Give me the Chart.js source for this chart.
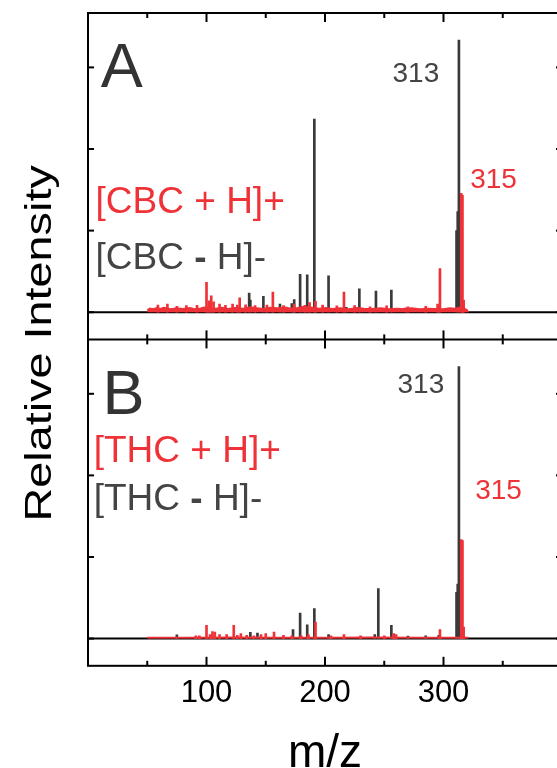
<!DOCTYPE html>
<html>
<head>
<meta charset="utf-8">
<script src="https://cdn.jsdelivr.net/npm/chart.js@4.4.1/dist/chart.umd.min.js"></script>
<style>
  html, body { margin: 0; padding: 0; background: #fff; overflow: hidden; }
  #wrap { width: 557px; height: 768px; overflow: hidden; }
</style>
</head>
<body>
<div id="wrap"><canvas id="ms" width="563" height="768"></canvas></div>
<script>
// m/z axis ticks and intensity ticks (313 peak = 100)
const xTicks = [50, 100, 150, 200, 250, 300, 350];
const yTicks = [0, 30, 60, 90];

// Panel A - CBC
const cbcNegMz  = [136, 137, 148, 162, 172, 174, 179, 185, 191, 203, 218, 229, 243, 256, 268, 296, 311, 312, 313];
const cbcNegInt = [7.0, 4.5, 5.8, 3.0, 3.2, 4.6, 13.9, 13.7, 71, 13.4, 1.8, 8.6, 7.8, 8.1, 1.5, 2.0, 30, 37, 100];
const cbcPosMz  = [59, 67, 75, 83, 92, 100, 102, 104, 106, 111, 116, 122, 126, 128, 133, 141, 151, 156, 165, 174, 183, 187, 192, 198, 210, 216, 225, 238, 252, 270, 285, 295, 297, 315, 316, 317];
const cbcPosInt = [2.6, 3.0, 2.2, 2.4, 2.5, 11, 4.2, 6.0, 3.8, 3.0, 2.5, 3.0, 2.6, 5.3, 2.7, 2.4, 2.6, 7.4, 2.4, 3.0, 2.5, 3.5, 4.0, 2.6, 2.3, 7.4, 2.4, 2.0, 2.3, 2.0, 2.2, 3.0, 16, 43.7, 43, 4.5];
const cbcFloorMz = [50, 52, 55, 58, 61, 64, 70, 75, 80, 86, 90, 95, 98, 108, 113, 118, 124, 131, 137, 143, 148, 153, 160, 167, 171, 177, 181, 190, 195, 201, 206, 213, 220, 227, 233, 240, 247, 254, 260, 266, 273, 280, 287, 293, 300, 305, 310, 314, 318, 320, 321];
const cbcFloor   = [0.8, 1.4, 1.2, 1.6, 1.3, 1.7, 1.2, 1.5, 1.3, 1.6, 1.2, 1.5, 1.8, 1.4, 1.7, 1.3, 1.6, 1.4, 1.9, 1.5, 1.3, 1.7, 1.5, 1.8, 1.4, 1.6, 2.0, 1.7, 1.4, 1.6, 1.3, 1.5, 1.2, 1.6, 1.4, 1.3, 1.5, 1.2, 1.4, 1.3, 1.5, 1.2, 1.4, 1.3, 1.2, 1.5, 1.4, 1.8, 1.3, 0.8, 0];

// Panel B - THC
const thcNegMz  = [75, 137, 143, 173, 179, 185, 191, 203, 242, 245, 256, 270, 285, 296, 311, 312, 313];
const thcNegInt = [1.4, 2.3, 2.0, 3.3, 9.4, 5.1, 11, 1.5, 1.5, 18.4, 4.9, 0.9, 1.0, 1.2, 17, 20, 100];
const thcPosMz  = [91, 94, 100, 103, 105, 107, 111, 117, 123, 126, 129, 134, 140, 146, 150, 157, 165, 172, 180, 186, 192, 205, 216, 230, 250, 258, 260, 297, 315, 316, 317];
const thcPosInt = [1.0, 1.0, 4.9, 1.5, 2.6, 2.4, 1.5, 1.5, 4.9, 1.2, 1.8, 1.2, 1.0, 1.5, 1.8, 2.4, 1.2, 1.0, 1.0, 1.5, 6.1, 1.0, 1.5, 1.0, 1.0, 1.8, 1.5, 3.3, 36.4, 36, 4.2];
const thcFloorMz = [50, 80, 120, 160, 200, 240, 280, 321];
const thcFloor   = [0.4, 0.4, 0.5, 0.4, 0.4, 0.5, 0.4, 0.4];

const RED = '#ee3238';
const DARK = '#3a3a3a';
const FONT = "'Liberation Sans', Arial, sans-serif";

const pts = (xs, ys) => xs.map((m, i) => ({ x: m, y: ys[i] }));

function sticks(xs, ys, axis, color, order) {
  return { type: 'bar', data: pts(xs, ys), yAxisID: axis, backgroundColor: color,
           borderWidth: 0, barThickness: 2, grouped: false, order: order };
}
function floor(xs, ys, axis) {
  return { type: 'line', data: pts(xs, ys), yAxisID: axis, borderColor: RED, backgroundColor: RED,
           borderWidth: 1.5, pointRadius: 0, fill: 'origin', tension: 0, order: 1 };
}

// text placed in data units of each panel
const notes = [
  { axis: 'yA', x: 10.7, y: 82.9, size: 63, color: '#333', align: 'left', parts: ['A'] },
  { axis: 'yA', x: 296.4, y: 84.8, size: 28, color: '#444', align: 'right', parts: ['313'] },
  { axis: 'yA', x: 322.5, y: 45.6, size: 28, color: RED, align: 'left', parts: ['315'] },
  { axis: 'yA', x: 6.4, y: 36.3, size: 37, color: RED, align: 'left', parts: ['[CBC + H]+'] },
  { axis: 'yA', x: 6.4, y: 16, size: 37, color: '#444', align: 'left', parts: ['[CBC ', '-', ' H]-'] },
  { axis: 'yB', x: 12.3, y: 82.6, size: 63, color: '#333', align: 'left', parts: ['B'] },
  { axis: 'yB', x: 300.6, y: 90.3, size: 28, color: '#444', align: 'right', parts: ['313'] },
  { axis: 'yB', x: 326.7, y: 51.3, size: 28, color: RED, align: 'left', parts: ['315'] },
  { axis: 'yB', x: 4.8, y: 65, size: 37, color: RED, align: 'left', parts: ['[THC + H]+'] },
  { axis: 'yB', x: 4.8, y: 47.1, size: 37, color: '#444', align: 'left', parts: ['[THC ', '-', ' H]-'] }
];

const frame = {
  id: 'frame',
  beforeDatasetsDraw(chart) {
    const { ctx, chartArea: a, scales } = chart;
    ctx.save();
    ctx.strokeStyle = '#000';
    ctx.lineWidth = 2;
    for (const id of ['yA', 'yB']) {
      const y = scales[id].getPixelForValue(0);
      ctx.beginPath(); ctx.moveTo(a.left, y); ctx.lineTo(a.right, y); ctx.stroke();
    }
    ctx.restore();
  },
  afterDraw(chart) {
    const { ctx, chartArea: a, scales } = chart;
    const x = scales.x;
    const seg = (x1, y1, x2, y2) => { ctx.beginPath(); ctx.moveTo(x1, y1); ctx.lineTo(x2, y2); ctx.stroke(); };
    ctx.save();
    ctx.strokeStyle = '#000';
    ctx.lineWidth = 2;
    ctx.strokeRect(a.left, a.top, a.right - a.left, a.bottom - a.top);
    for (const id of ['yA', 'yB']) {
      const s = scales[id];
      seg(a.left, s.top, a.right, s.top);
      for (const t of x.ticks) {
        const px = x.getPixelForValue(t.value);
        const len = t.value % 100 === 0 ? 9 : 5;
        seg(px, s.top, px, s.top + len);
        seg(px, s.bottom, px, s.bottom - len);
      }
      for (const t of s.ticks) {
        const py = s.getPixelForValue(t.value);
        seg(a.left, py, a.left + 6, py);
        seg(a.right, py, a.right - 6, py);
      }
    }

    // annotations
    ctx.textBaseline = 'alphabetic';
    for (const n of notes) {
      const s = scales[n.axis];
      let px = x.getPixelForValue(n.x);
      const py = s.getPixelForValue(n.y);
      ctx.fillStyle = n.color;
      const fonts = n.parts.map(p => (p === '-' ? 'bold ' : '') + n.size + 'px ' + FONT);
      let total = 0;
      n.parts.forEach((p, i) => { ctx.font = fonts[i]; total += ctx.measureText(p).width; });
      if (n.align === 'right') px -= total;
      ctx.textAlign = 'left';
      n.parts.forEach((p, i) => {
        ctx.font = fonts[i];
        ctx.fillText(p, px, py);
        px += ctx.measureText(p).width;
      });
    }

    // axis titles
    ctx.fillStyle = '#000';
    ctx.textAlign = 'center';
    ctx.font = '46px ' + FONT;
    ctx.fillText('m/z', (x.left + x.right) / 2, 767);

    ctx.save();
    ctx.translate(51, (a.top + a.bottom) / 2 + 4);
    ctx.rotate(-Math.PI / 2);
    ctx.scale(1.3, 1);
    ctx.font = '36px ' + FONT;
    ctx.fillText('Relative Intensity', 0, 0);
    ctx.restore();

    ctx.restore();
  }
};

const yAxis = (weight) => ({
  type: 'linear', position: 'left', stack: 'ms', stackWeight: 1, weight: weight,
  min: -10, max: 110,
  afterBuildTicks: s => { s.ticks = yTicks.map(v => ({ value: v })); },
  grid: { display: false, drawTicks: false },
  border: { display: false },
  ticks: { display: false }
});

new Chart(document.getElementById('ms'), {
  type: 'bar',
  data: {
    datasets: [
      sticks(cbcNegMz, cbcNegInt, 'yA', DARK, 2),
      floor(cbcFloorMz, cbcFloor, 'yA'),
      sticks(cbcPosMz, cbcPosInt, 'yA', RED, 0),
      sticks(thcNegMz, thcNegInt, 'yB', DARK, 2),
      floor(thcFloorMz, thcFloor, 'yB'),
      sticks(thcPosMz, thcPosInt, 'yB', RED, 0)
    ]
  },
  options: {
    responsive: false,
    animation: false,
    events: [],
    layout: { padding: { left: 88, right: 1, top: 13, bottom: 47 } },
    plugins: { legend: { display: false }, tooltip: { enabled: false } },
    scales: {
      x: {
        type: 'linear', min: 0, max: 400, offset: false,
        afterBuildTicks: s => { s.ticks = xTicks.map(v => ({ value: v })); },
        grid: { display: false, drawTicks: false },
        border: { display: false },
        ticks: {
          autoSkip: false, maxRotation: 0, padding: 9, color: '#000',
          font: { family: FONT, size: 31 },
          callback: v => (v % 100 === 0 ? String(v) : '')
        }
      },
      yA: yAxis(2),
      yB: yAxis(1)
    }
  },
  plugins: [frame]
});
</script>
</body>
</html>
